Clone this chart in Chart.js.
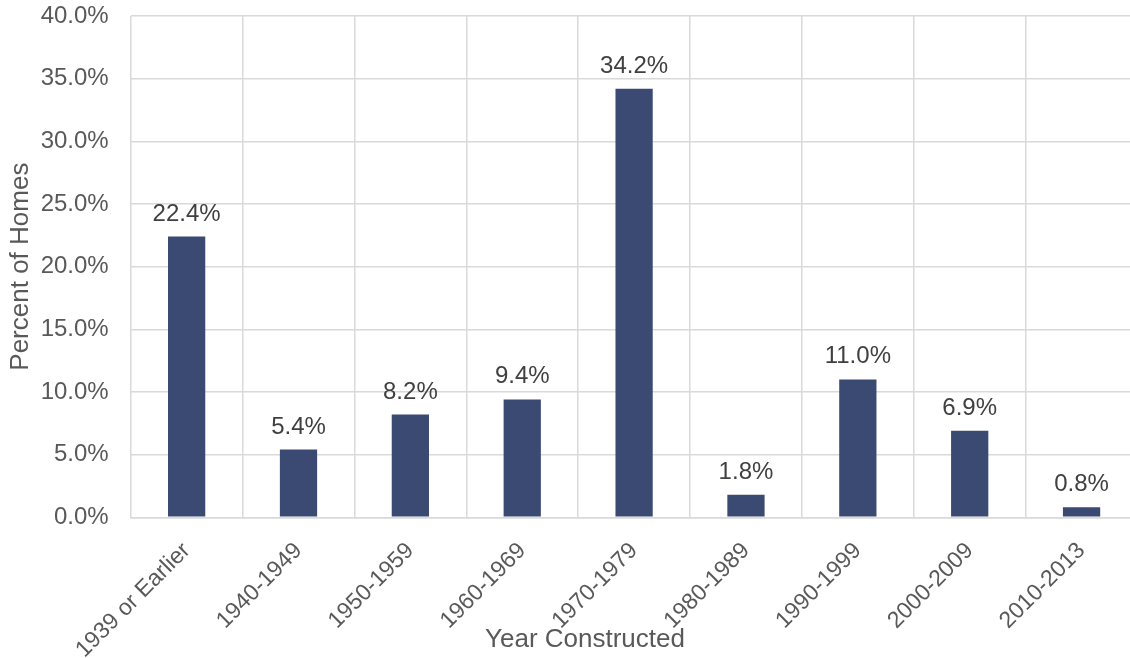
<!DOCTYPE html>
<html>
<head>
<meta charset="utf-8">
<script src="https://cdn.jsdelivr.net/npm/chart.js@4.4.1/dist/chart.umd.min.js"></script>
<style>
  html, body { margin: 0; padding: 0; background: #fff; overflow: hidden; }
  #wrap { position: relative; width: 1140px; height: 658px; }
</style>
</head>
<body>
<div id="wrap"><canvas id="myChart"></canvas></div>
<script>
// data
const categories = ['1939 or Earlier', '1940-1949', '1950-1959', '1960-1969', '1970-1979', '1980-1989', '1990-1999', '2000-2009', '2010-2013'];
const percentHomes = [22.4, 5.4, 8.2, 9.4, 34.2, 1.8, 11.0, 6.9, 0.8];
const yTicks = [0, 5, 10, 15, 20, 25, 30, 35, 40];

const FONT = "'Liberation Sans', Arial, sans-serif";
const gridGrey = '#d9d9d9';
const textGrey = '#595959';

//
// value labels on top of the bars + the x axis title
//
const barLabels = {
    id: 'barLabels',
    afterDatasetsDraw(chart) {
        const ctx = chart.ctx;
        const meta = chart.getDatasetMeta(0);
        ctx.save();
        ctx.font = '24px ' + FONT;
        ctx.fillStyle = '#404040';
        ctx.textAlign = 'center';
        ctx.textBaseline = 'alphabetic';
        meta.data.forEach((bar, i) => {
            ctx.fillText(percentHomes[i].toFixed(1) + '%', bar.x, bar.y - 16);
        });
        // x title sits centred on the visible page, not on the plot
        ctx.font = '26px ' + FONT;
        ctx.fillStyle = textGrey;
        ctx.textBaseline = 'middle';
        ctx.fillText('Year Constructed', 585, 640);
        ctx.restore();
    }
};

var myChart = new Chart(document.getElementById('myChart').getContext('2d'), {
    type: 'bar',
    data: {
        labels: categories,
        datasets: [{
            label: 'Percent of Homes',
            data: percentHomes,
            backgroundColor: '#3b4a73',
            borderWidth: 0,
            barPercentage: 0.333,
            categoryPercentage: 1.0,
        }]
    },
    options: {
        responsive: true,
        maintainAspectRatio: false,
        animation: false,
        devicePixelRatio: 1,
        layout: {
            padding: { left: 0, right: 2.5, top: 16, bottom: 0 }
        },
        plugins: {
            legend: { display: false },
            tooltip: { enabled: false },
        },
        scales: {
            x: {
                grid: { color: gridGrey, lineWidth: 1.5, drawTicks: false, offset: true },
                border: { color: gridGrey, width: 1.5 },
                ticks: {
                    color: textGrey,
                    font: { family: FONT, size: 23 },
                    maxRotation: 45,
                    minRotation: 45,
                    padding: 20,
                },
                afterFit(scale) {
                    scale.height = 140.7;
                    scale.paddingLeft = 0;
                    scale.paddingRight = 0;
                },
            },
            y: {
                min: 0,
                max: 40,
                afterBuildTicks(scale) { scale.ticks = yTicks.map(v => ({ value: v })); },
                grid: { color: gridGrey, lineWidth: 1.5, drawTicks: false },
                border: { display: false },
                ticks: {
                    color: textGrey,
                    font: { family: FONT, size: 24 },
                    padding: 22,
                    callback: v => v.toFixed(1) + '%',
                },
                title: {
                    display: true,
                    text: 'Percent of Homes',
                    color: textGrey,
                    font: { family: FONT, size: 26 },
                    padding: { top: 5, bottom: 0 },
                },
                afterFit(scale) {
                    scale.width = 130.7;
                    scale.paddingTop = 0;
                    scale.paddingBottom = 0;
                },
            }
        }
    },
    plugins: [barLabels]
});
</script>
</body>
</html>
